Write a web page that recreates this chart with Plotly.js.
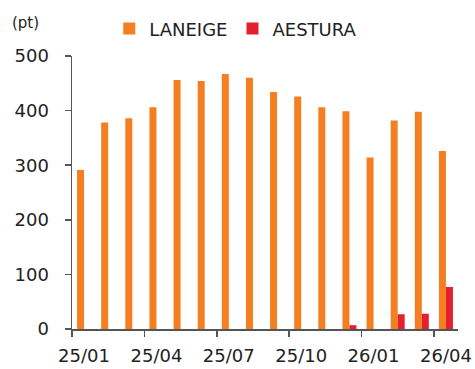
<!DOCTYPE html>
<html>
<head>
<meta charset="utf-8">
<script src="https://cdn.plot.ly/plotly-3.0.1.min.js"></script>
<style>html,body{margin:0;padding:0;background:#fff;}#chart{width:475px;height:369px;}</style>
</head>
<body>
<div id="chart"></div>
<script>
const months = ["25/01","25/02","25/03","25/04","25/05","25/06","25/07","25/08","25/09","25/10","25/11","25/12","26/01","26/02","26/03","26/04"];
const laneige = [291, 378, 386, 406, 456, 454, 467, 460, 434, 426, 406, 399, 314, 382, 398, 326];
const aestura = [null, null, null, null, null, null, null, null, null, null, null, 7, null, 27, 28, 77];
const labelMonths = ["25/01","25/04","25/07","25/10","26/01","26/04"];
const yTicks = [0, 100, 200, 300, 400, 500];

const FONT = "DejaVu Sans";
const AX = "#555555";

const traces = [
  {type: "bar", name: "LANEIGE", x: months, y: laneige, marker: {color: "#F47E20"}},
  {type: "bar", name: "AESTURA", x: months, y: aestura, marker: {color: "#E4202E"}},
  {type: "scatter", x: [], y: [], xaxis: "x2", yaxis: "y", showlegend: false, hoverinfo: "skip"}
];

const boundaryTicks = labelMonths.map(m => months.indexOf(m) - 0.5);

const layout = {
  width: 475, height: 369,
  margin: {l: 72, r: 17, t: 56, b: 40, autoexpand: false},
  paper_bgcolor: "#fff", plot_bgcolor: "#fff",
  font: {family: FONT, color: "#222", size: 18},
  barmode: "group", bargap: 0.42, bargroupgap: 0,
  showlegend: true,
  legend: {orientation: "h", xref: "container", yref: "container", x: 0.23, xanchor: "left",
           y: 0.922, yanchor: "middle",
           font: {family: FONT, size: 18, color: "#222"}, traceorder: "normal"},
  xaxis: {type: "category", range: [-0.5, 15.5], tickmode: "array", tickvals: labelMonths,
          ticks: "", showline: true, linecolor: AX, linewidth: 1.5, showgrid: false, zeroline: false,
          ticklabelstandoff: 10,
          tickfont: {family: FONT, size: 18, color: "#222"}, fixedrange: true},
  xaxis2: {overlaying: "x", anchor: "y", side: "bottom", type: "linear", range: [-0.5, 15.5], tickmode: "array",
           tickvals: boundaryTicks, showticklabels: false, ticks: "outside", ticklen: 7, tickwidth: 1.5,
           tickcolor: AX, showline: false, showgrid: false, zeroline: false},
  yaxis: {range: [0, 500], tickmode: "array", tickvals: yTicks, ticks: "outside", ticklen: 6,
          tickwidth: 1.5, tickcolor: AX, showline: true, linecolor: AX, linewidth: 1.5,
          showgrid: false, zeroline: false, ticklabelstandoff: 12,
          tickfont: {family: FONT, size: 18, color: "#222"}},
  annotations: [{text: "(pt)", xref: "paper", yref: "paper", x: -0.16, y: 1.12,
                 xanchor: "left", yanchor: "middle", showarrow: false,
                 font: {family: FONT, size: 15, color: "#222"}}]
};

Plotly.newPlot("chart", traces, layout, {displayModeBar: false, staticPlot: true});
</script>
</body>
</html>
